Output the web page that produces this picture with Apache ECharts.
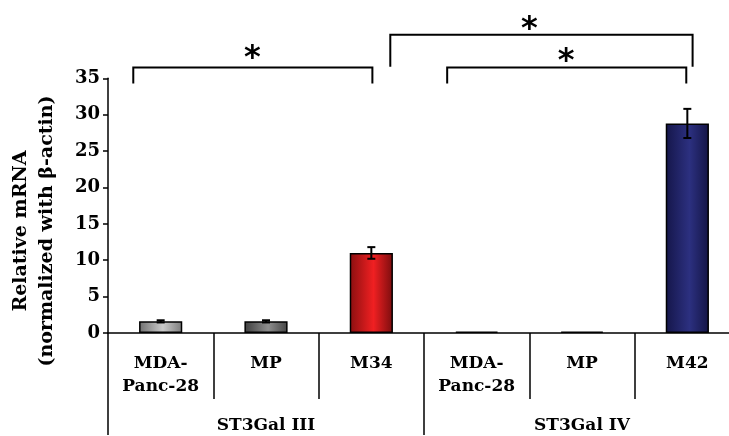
<!DOCTYPE html>
<html>
<head>
<meta charset="utf-8">
<script src="https://cdn.jsdelivr.net/npm/echarts@6/dist/echarts.min.js"></script>
<style>html,body{margin:0;padding:0;background:#fff;overflow:hidden;width:729px;height:436px}#c{width:740px;height:436px}</style>
</head>
<body>
<div id="c"></div>
<script>
var categories = ['MDA-\nPanc-28', 'MP', 'M34', 'MDA-\nPanc-28', 'MP', 'M42'];
var groups = ['ST3Gal III', 'ST3Gal IV'];
var values = [1.6, 1.6, 11.0, 0.2, 0.2, 28.8];
var errors = [0.15, 0.15, 0.8, 0, 0, 2.0];
var yTicks = [0, 5, 10, 15, 20, 25, 30, 35];
// brackets: [xStart, xEnd (in category units from first center), yTop, yLegLeft, yLegRight]
var brackets = [
  [-0.26, 2.01, 36.5, 34.3, 34.3],
  [2.18, 5.05, 41.0, 36.6, 36.6],
  [2.72, 4.99, 36.5, 34.3, 34.3]
];
// stars: [x (category units), y]
var stars = [[0.87, 38.6], [3.5, 42.7], [3.85, 38.3]];

var FONT = 'DejaVu Serif';
function grad(a, b, c) {
  return new echarts.graphic.LinearGradient(0, 0, 1, 0, [
    {offset: 0, color: a}, {offset: 0.55, color: b}, {offset: 1, color: c}
  ]);
}
var barColors = [
  grad('#6f6f6f', '#cbcbcb', '#7c7c7c'),
  grad('#3e3e3e', '#8e8e8e', '#444444'),
  grad('#8a0f10', '#f02022', '#7a0d0e'),
  grad('#333', '#666', '#333'),
  grad('#333', '#666', '#333'),
  grad('#15164a', '#2c3080', '#141546')
];

var chart = echarts.init(document.getElementById('c'), null, {renderer: 'canvas'});
var black = '#000';
chart.setOption({
  animation: false,
  backgroundColor: '#fff',
  grid: {left: 108, top: 78.3, bottom: 101.7, right: 0, containLabel: false},
  xAxis: [{
    type: 'category', data: categories, position: 'bottom',
    axisLine: {lineStyle: {color: black, width: 1.5}},
    axisTick: {show: true, length: 66, interval: 0, lineStyle: {color: black, width: 1.5}},
    axisLabel: {interval: 0, margin: 19.5, color: black, fontFamily: FONT, fontWeight: 'bold', fontSize: 17, lineHeight: 23, align: 'center'}
  }, {
    type: 'category', data: groups, position: 'bottom',
    axisLine: {show: false},
    axisTick: {show: true, length: 102, interval: 0, lineStyle: {color: black, width: 1.5}},
    axisLabel: {interval: 0, margin: 83, color: black, fontFamily: FONT, fontWeight: 'bold', fontSize: 17, lineHeight: 20}
  }],
  yAxis: {
    type: 'value', min: yTicks[0], max: yTicks[yTicks.length - 1], interval: 5,
    axisLine: {show: true, lineStyle: {color: black, width: 1.5}},
    axisTick: {show: true, length: 5, lineStyle: {color: black, width: 1.5}},
    splitLine: {show: false},
    axisLabel: {margin: 8, color: black, fontFamily: FONT, fontWeight: 'bold', fontSize: 18}
  },
  graphic: [{
    type: 'text', rotation: Math.PI / 2, x: 34, y: 231,
    style: {text: 'Relative mRNA\n(normalized with β-actin)', font: 'bold 19px "' + FONT + '"',
      fill: black, align: 'center', verticalAlign: 'middle', lineHeight: 26}
  }],
  series: [{
    type: 'bar', xAxisIndex: 0, barWidth: '41%', z: 2,
    data: values.map(function (v, i) {
      return {value: v, itemStyle: {color: barColors[i], borderColor: black, borderWidth: 1.5}};
    })
  }, {
    type: 'custom', xAxisIndex: 0, clip: false, silent: true, z: 5,
    data: values.map(function (v, i) { return [i, v, errors[i]]; }),
    renderItem: function (params, api) {
      var e = api.value(2);
      if (!e) return null;
      var i = api.value(0), v = api.value(1);
      var top = api.coord([i, v + e]), bot = api.coord([i, v - e]);
      var w = 4;
      var ls = {stroke: black, lineWidth: 2};
      return {type: 'group', children: [
        {type: 'line', shape: {x1: top[0], y1: top[1], x2: bot[0], y2: bot[1]}, style: ls},
        {type: 'line', shape: {x1: top[0] - w, y1: top[1], x2: top[0] + w, y2: top[1]}, style: ls},
        {type: 'line', shape: {x1: bot[0] - w, y1: bot[1], x2: bot[0] + w, y2: bot[1]}, style: ls}
      ]};
    }
  }, {
    type: 'custom', xAxisIndex: 0, clip: false, silent: true, z: 5,
    data: brackets,
    renderItem: function (params, api) {
      var base = api.coord([0, 0])[0], bw = api.size([1, 0])[0];
      var x1 = base + api.value(0) * bw, x2 = base + api.value(1) * bw;
      var yt = api.coord([0, api.value(2)])[1];
      var yl = api.coord([0, api.value(3)])[1];
      var yr = api.coord([0, api.value(4)])[1];
      return {type: 'polyline', shape: {points: [[x1, yl], [x1, yt], [x2, yt], [x2, yr]]},
        style: {stroke: black, lineWidth: 2, fill: null}};
    }
  }, {
    type: 'custom', xAxisIndex: 0, clip: false, silent: true, z: 5,
    data: stars,
    renderItem: function (params, api) {
      var base = api.coord([0, 0])[0], bw = api.size([1, 0])[0];
      var x = base + api.value(0) * bw;
      var y = api.coord([0, api.value(1)])[1];
      return {type: 'text', style: {text: '*', x: x, y: y + 7, font: 'bold 32px "DejaVu Sans"',
        fill: black, align: 'center', verticalAlign: 'middle'}};
    }
  }]
});
</script>
</body>
</html>
